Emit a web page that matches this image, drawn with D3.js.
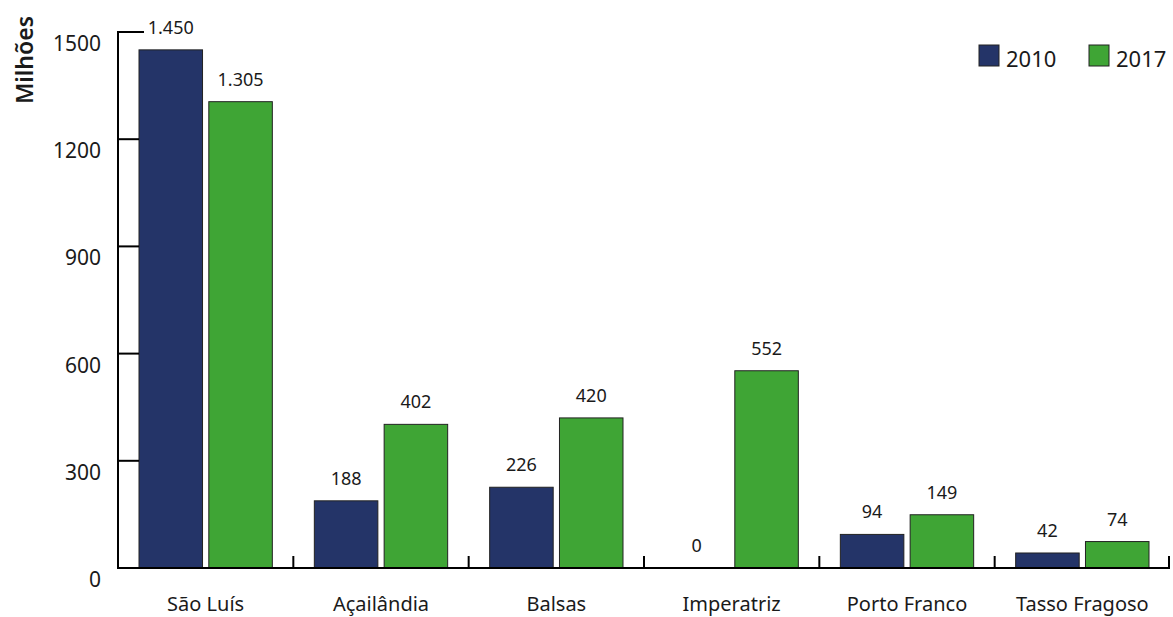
<!DOCTYPE html>
<html>
<head>
<meta charset="utf-8">
<script src="https://cdn.jsdelivr.net/npm/d3@7"></script>
<style>
  body { margin: 0; background: #fff; }
  svg text { font-family: "Noto Sans", Lato, sans-serif; fill: #1a1a1a; }
</style>
</head>
<body>
<svg id="chart" width="1173" height="617"></svg>
<script>
const categories = ["São Luís", "Açailândia", "Balsas", "Imperatriz", "Porto Franco", "Tasso Fragoso"];
const years = ["2010", "2017"];
const values2010 = [1450, 188, 226, 0, 94, 42];
const values2017 = [1305, 402, 420, 552, 149, 74];
const yTicks = [0, 300, 600, 900, 1200, 1500];
const colors = ["#243468", "#3fa535"];

const margin = { top: 32, right: 3, bottom: 49, left: 118 };
const width = 1173 - margin.left - margin.right;
const height = 617 - margin.top - margin.bottom;

const svg = d3.select("#chart")
  .append("g")
  .attr("transform", `translate(${margin.left},${margin.top})`);

const x = d3.scaleBand().domain(categories).range([0, width]);
const xs = d3.scaleBand().domain(years).range([21, x.bandwidth() - 21]).paddingInner(0.09);
const y = d3.scaleLinear().domain([0, 1500]).range([height, 0]);

const dataset = categories.map((c, i) => ({ cat: c, vals: [values2010[i], values2017[i]] }));

// bars
const groups = svg.selectAll(".grp")
  .data(dataset)
  .enter().append("g")
  .attr("transform", d => `translate(${x(d.cat)},0)`);

groups.selectAll("rect")
  .data(d => d.vals.map((v, j) => ({ year: years[j], v: v, j: j })))
  .enter().append("rect")
  .attr("x", d => xs(d.year))
  .attr("width", xs.bandwidth())
  .attr("y", d => y(d.v))
  .attr("height", d => height - y(d.v))
  .style("fill", d => colors[d.j])
  .style("stroke", "#222")
  .style("stroke-width", d => d.v > 0 ? 1 : 0);

groups.selectAll(".lbl")
  .data(d => d.vals.map((v, j) => ({ year: years[j], v: v })))
  .enter().append("text")
  .attr("x", d => xs(d.year) + xs.bandwidth() / 2)
  .attr("y", d => y(d.v) - 16)
  .attr("text-anchor", "middle")
  .style("font-size", "18px")
  .text(d => d3.format(",")(d.v).replace(",", "."));

// y axis
svg.append("line")
  .attr("x1", 0).attr("x2", 0)
  .attr("y1", y(1500) - 1).attr("y2", height + 1)
  .style("stroke", "#000").style("stroke-width", 2);

svg.selectAll(".ytick")
  .data(yTicks)
  .enter().append("line")
  .attr("x1", 0).attr("x2", d => d === 1500 ? 26 : 21)
  .attr("y1", d => y(d)).attr("y2", d => y(d))
  .style("stroke", "#000").style("stroke-width", 2);

svg.selectAll(".ylab")
  .data(yTicks)
  .enter().append("text")
  .attr("x", -17)
  .attr("y", d => y(d) + 19)
  .attr("text-anchor", "end")
  .style("font-size", "21px")
  .text(d => d);

svg.append("text")
  .attr("transform", "rotate(-90)")
  .attr("x", -(y(1500) + 28))
  .attr("y", -85)
  .attr("text-anchor", "middle")
  .style("font-size", "23px")
  .style("font-weight", "600")
  .text("Milhões");

// x axis
svg.append("line")
  .attr("x1", 0).attr("x2", width)
  .attr("y1", height).attr("y2", height)
  .style("stroke", "#000").style("stroke-width", 2);

const bounds = categories.map(c => x(c)).concat([width - 1]);
svg.selectAll(".xtick")
  .data(bounds)
  .enter().append("line")
  .attr("x1", d => d).attr("x2", d => d)
  .attr("y1", height).attr("y2", height - 12)
  .style("stroke", "#000").style("stroke-width", 2);

svg.selectAll(".xlab")
  .data(categories)
  .enter().append("text")
  .attr("x", d => x(d) + x.bandwidth() / 2)
  .attr("y", height + 43)
  .attr("text-anchor", "middle")
  .style("font-size", "20px")
  .text(d => d);

// legend
const legend = svg.selectAll(".leg")
  .data(years)
  .enter().append("g")
  .attr("transform", (d, i) => `translate(${861 + i * 110},13)`);

legend.append("rect")
  .attr("width", 20).attr("height", 21)
  .style("fill", (d, i) => colors[i])
  .style("stroke", "#222");

legend.append("text")
  .attr("x", 27)
  .attr("y", 22)
  .style("font-size", "22px")
  .text(d => d);
</script>
</body>
</html>
